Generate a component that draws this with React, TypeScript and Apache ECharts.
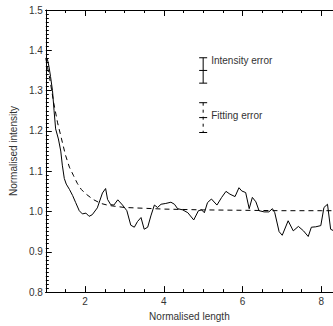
import React, { useEffect, useRef } from "react";
import * as echarts from "echarts";

const solidX = [1.0, 1.04, 1.08, 1.12, 1.17, 1.21, 1.25, 1.32, 1.38, 1.42, 1.47, 1.52, 1.6, 1.68, 1.76, 1.85, 1.93, 2.02, 2.1, 2.18, 2.31, 2.44, 2.52, 2.57, 2.65, 2.73, 2.83, 2.95, 3.06, 3.16, 3.25, 3.33, 3.42, 3.5, 3.59, 3.67, 3.76, 3.84, 3.93, 4.05, 4.18, 4.27, 4.35, 4.48, 4.61, 4.76, 4.88, 4.96, 5.03, 5.11, 5.21, 5.35, 5.47, 5.58, 5.68, 5.81, 5.91, 5.98, 6.08, 6.17, 6.25, 6.34, 6.42, 6.55, 6.67, 6.76, 6.82, 6.93, 7.01, 7.16, 7.29, 7.42, 7.55, 7.67, 7.75, 7.86, 7.99, 8.07, 8.16, 8.24, 8.32];
const solidY = [1.38, 1.378, 1.36, 1.335, 1.3, 1.25, 1.205, 1.18, 1.15, 1.115, 1.082, 1.068, 1.055, 1.04, 1.022, 1.002, 0.994, 0.996, 0.988, 0.992, 1.009, 1.046, 1.057, 1.03, 1.017, 1.016, 1.029, 1.016, 1.002, 0.966, 0.961, 0.975, 0.985, 0.956, 0.961, 0.989, 1.016, 1.01, 1.018, 1.02, 1.023, 1.018, 1.007, 1.004, 0.997, 0.979, 1.002, 1.004, 0.997, 1.022, 1.031, 1.016, 1.035, 1.05, 1.043, 1.037, 1.059, 1.051, 1.047, 1.007, 1.035, 1.024, 1.002, 0.999, 0.999, 1.007, 0.997, 0.95, 0.941, 0.977, 0.952, 0.963, 0.952, 0.938, 0.961, 0.962, 0.965, 1.01, 1.018, 0.956, 0.952];

const dashedX = [1.0, 1.1, 1.2, 1.3, 1.4, 1.5, 1.6, 1.7, 1.8, 1.9, 2.0, 2.2, 2.4, 2.6, 3.0, 3.5, 4.0, 5.0, 6.0, 7.0, 8.0, 8.33];
const dashedY = [1.38, 1.33, 1.27, 1.22, 1.18, 1.14, 1.11, 1.09, 1.07, 1.055, 1.045, 1.03, 1.02, 1.015, 1.01, 1.008, 1.006, 1.004, 1.003, 1.002, 1.002, 1.002];

const errLabels = ["Intensity error", "Fitting error"];
const errX = [5, 5];
const errY = [1.35, 1.233];
const errSize = [0.0315, 0.037];
const errDashed = [0, 1];

const xMajor = [2, 4, 6, 8];
const xMinor = [1.5, 2.5, 3, 3.5, 4.5, 5, 5.5, 6.5, 7, 7.5, 8];

const X_MIN = 1;
const X_MAX = 8.3;
const Y_MIN = 0.8;
const Y_MAX = 1.5;

export default function App() {
  const ref = useRef<HTMLDivElement>(null);
  useEffect(() => {
    if (!ref.current) return;
    const chart = echarts.init(ref.current, null, { renderer: "svg" });
    const font = "Liberation Sans, Arial, sans-serif";
    const textColor = "#333";
    const lineStyle = { color: "#000", width: 1 };
    const baseX = (pos: string, ticks: number[], len: number, extra: any = {}) => ({
      type: "value",
      gridIndex: 0,
      position: pos,
      min: X_MIN,
      max: X_MAX,
      axisLine: { show: true, onZero: false, lineStyle },
      axisTick: { show: true, inside: true, length: len, customValues: ticks, lineStyle },
      axisLabel: { show: false },
      splitLine: { show: false },
      ...extra,
    });
    const option: any = {
      animation: false,
      grid: { left: 44.5, right: 0, top: 10, bottom: 26, containLabel: false },
      xAxis: [
        baseX("bottom", xMinor, 3, {
          name: "Normalised length",
          nameLocation: "middle",
          nameGap: 15,
          nameTextStyle: { fontFamily: font, fontSize: 10, color: textColor },
          axisLabel: {
            show: true,
            customValues: xMajor,
            fontFamily: font,
            fontSize: 10,
            color: textColor,
            margin: 4,
          },
        }),
        baseX("bottom", xMajor, 6),
        baseX("top", xMinor, 3),
        baseX("top", xMajor, 6),
      ],
      yAxis: [
        {
          type: "value",
          min: Y_MIN,
          max: Y_MAX,
          interval: 0.1,
          name: "Normalised intensity",
          nameLocation: "middle",
          nameGap: 25,
          nameTextStyle: { fontFamily: font, fontSize: 10, color: textColor },
          axisLine: { show: true, onZero: false, lineStyle },
          axisTick: { show: true, inside: true, length: 6, lineStyle },
          minorTick: { show: true, splitNumber: 10, length: 3, lineStyle },
          axisLabel: {
            fontFamily: font,
            fontSize: 10,
            color: textColor,
            margin: 3,
            formatter: (v: number) => v.toFixed(1),
          },
          splitLine: { show: false },
          minorSplitLine: { show: false },
        },
      ],
      series: [
        {
          type: "line",
          xAxisIndex: 0,
          data: solidX.map((x, i) => [x, solidY[i]]),
          showSymbol: false,
          symbol: "none",
          lineStyle: { color: "#000", width: 1 },
        },
        {
          type: "line",
          xAxisIndex: 0,
          data: dashedX.map((x, i) => [x, dashedY[i]]),
          showSymbol: false,
          symbol: "none",
          lineStyle: { color: "#000", width: 1, type: [5, 4] },
        },
        {
          type: "custom",
          xAxisIndex: 0,
          clip: false,
          data: errX.map((x, i) => [x, errY[i], errSize[i], errDashed[i]]),
          renderItem: (params: any, api: any) => {
            const x = api.value(0);
            const y = api.value(1);
            const e = api.value(2);
            const dashed = api.value(3) === 1;
            const top = api.coord([x, y + e]);
            const mid = api.coord([x, y]);
            const bot = api.coord([x, y - e]);
            const hw = 4;
            const st = { stroke: "#000", lineWidth: 1 };
            const cap = (p: number[]) => ({
              type: "line",
              shape: { x1: p[0] - hw, y1: p[1], x2: p[0] + hw, y2: p[1] },
              style: st,
            });
            return {
              type: "group",
              children: [
                {
                  type: "line",
                  shape: { x1: top[0], y1: top[1], x2: bot[0], y2: bot[1] },
                  style: dashed ? { ...st, lineDash: [3, 4] } : st,
                },
                cap(top),
                cap(mid),
                cap(bot),
                {
                  type: "text",
                  x: top[0] + 8,
                  y: dashed ? mid[1] - 2 : top[1] + 3,
                  style: {
                    text: errLabels[params.dataIndex],
                    fontFamily: font,
                    fontSize: 10,
                    fill: textColor,
                    verticalAlign: "middle",
                  },
                },
              ],
            };
          },
        },
      ],
    };
    chart.setOption(option);
    return () => chart.dispose();
  }, []);
  return (
    <div
      ref={ref}
      style={{ position: "fixed", left: 0, top: 0, width: 333, height: 326, background: "#fff" }}
    />
  );
}
